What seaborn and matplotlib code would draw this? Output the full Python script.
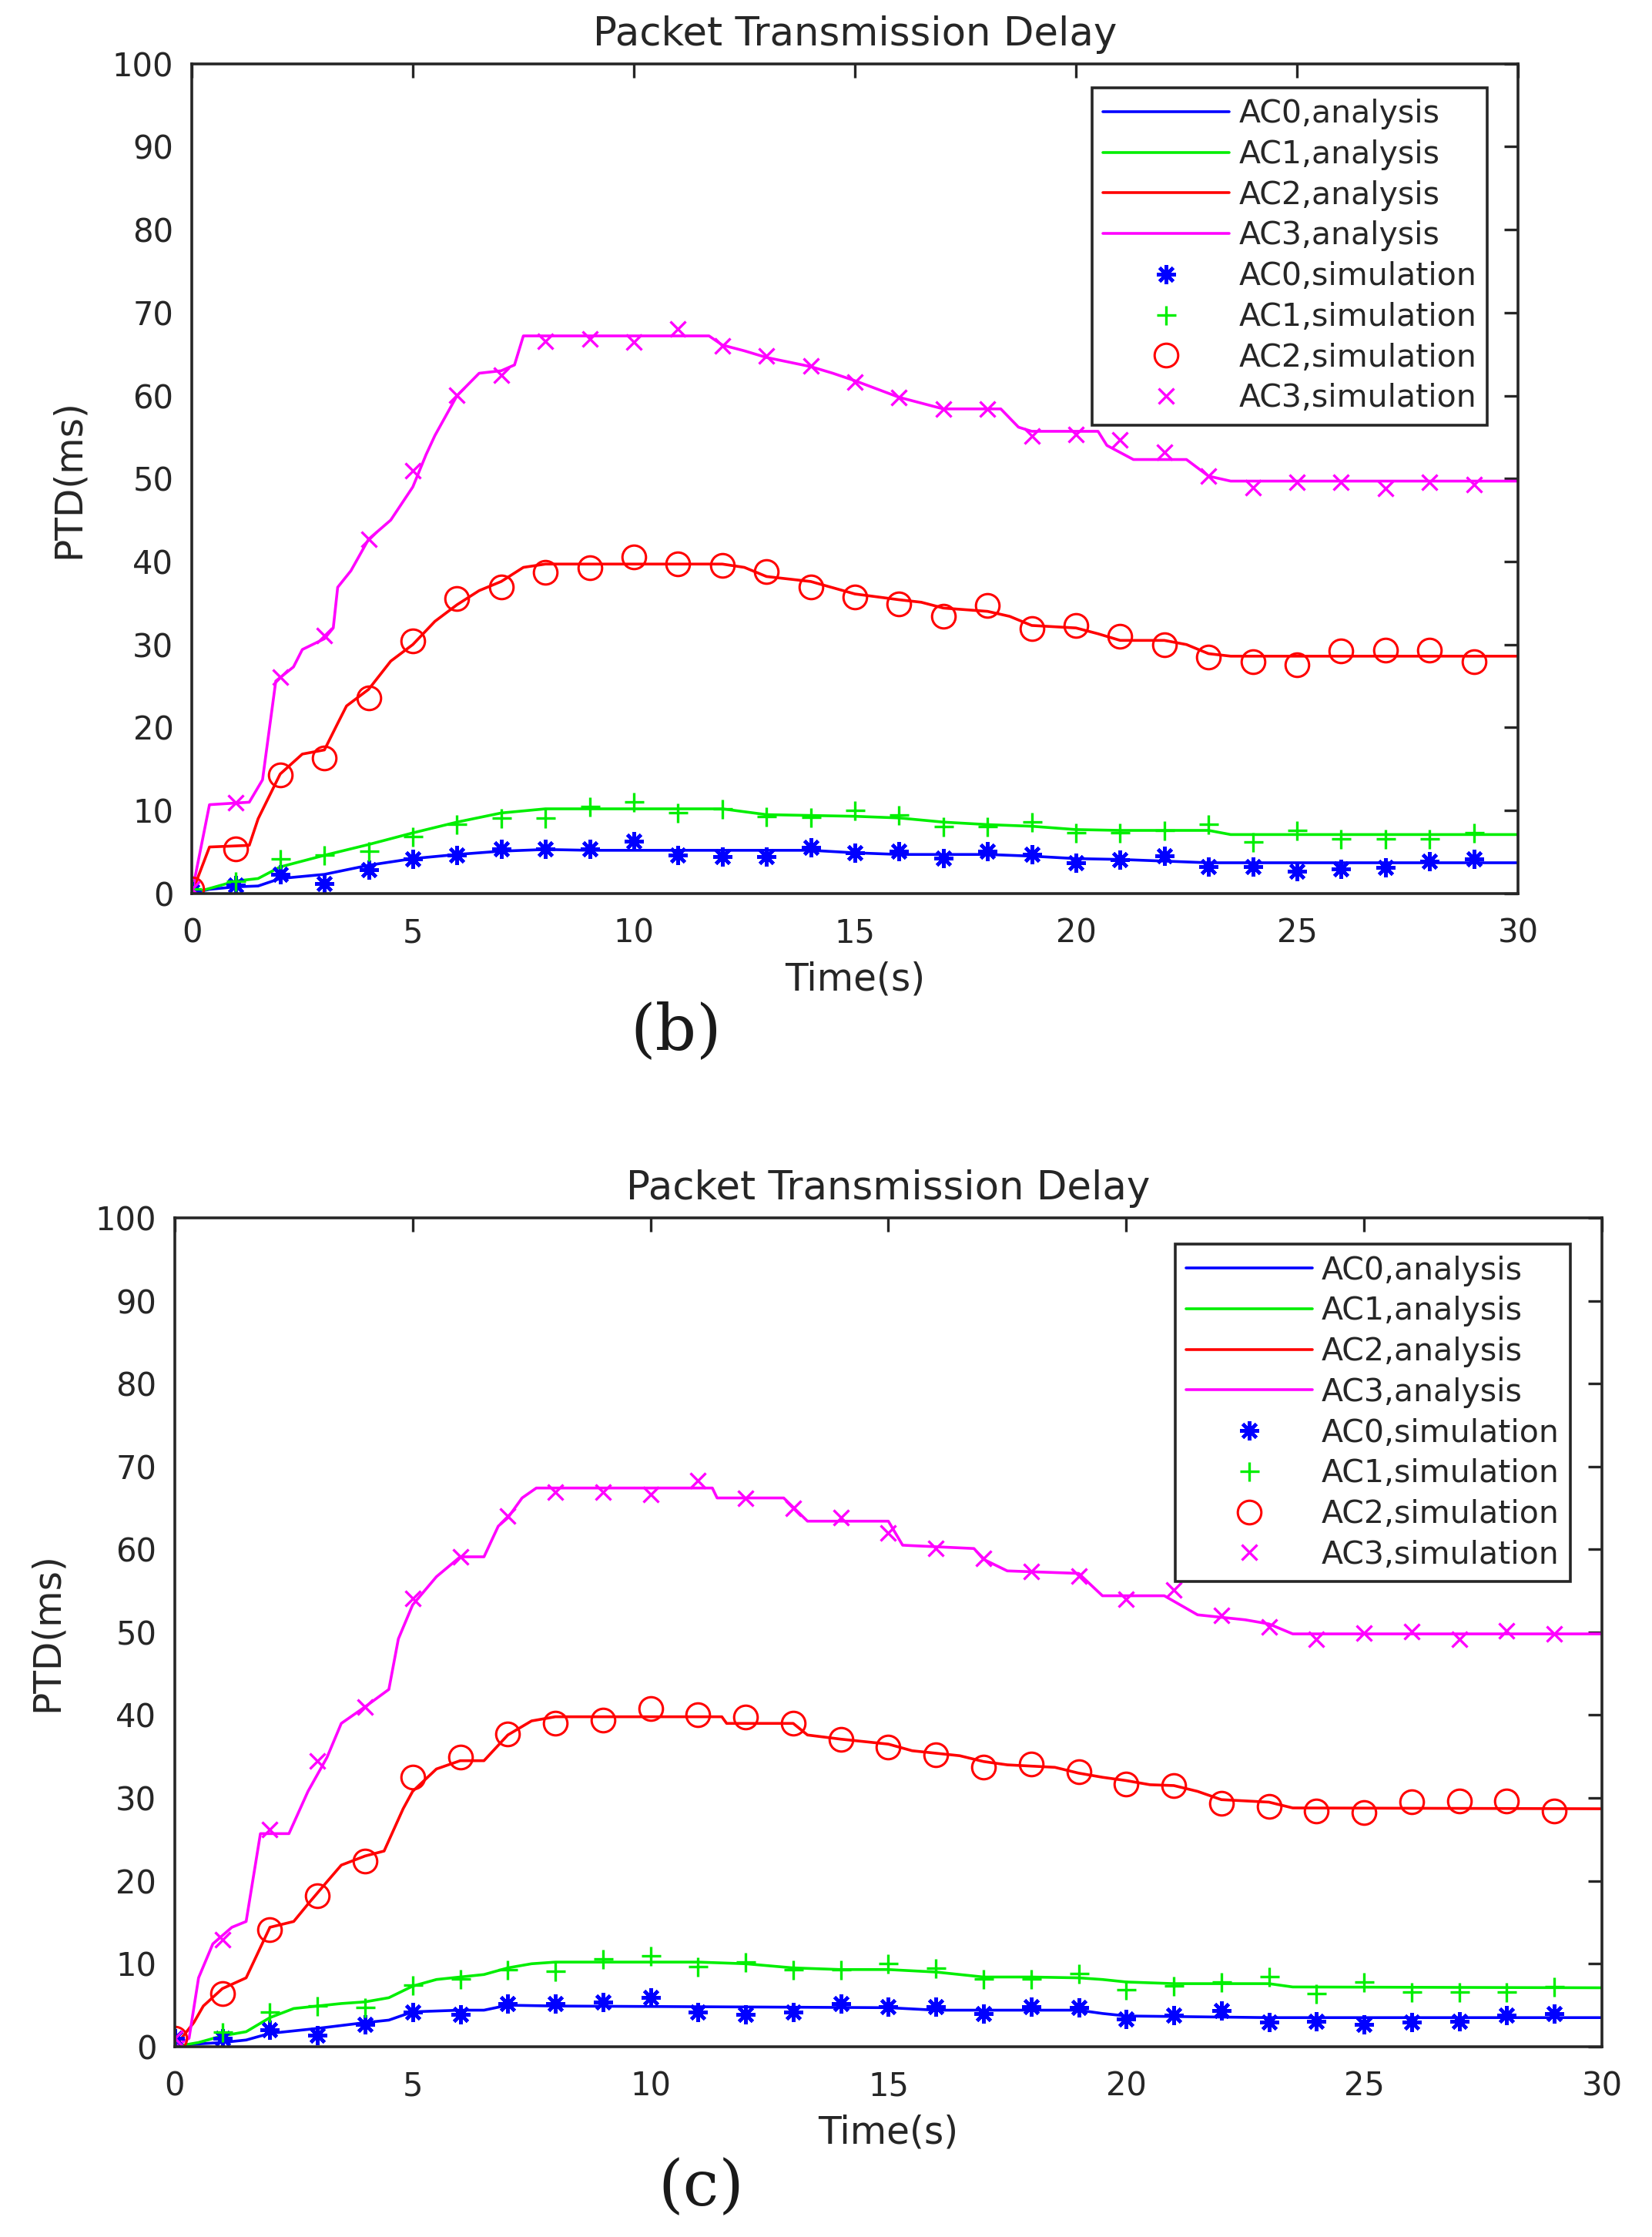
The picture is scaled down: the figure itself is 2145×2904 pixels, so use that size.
import numpy as np
import pandas as pd
import matplotlib
matplotlib.use("Agg")
import matplotlib.pyplot as plt
import seaborn as sns

# ---------------- data: panel (b) ----------------
b_ac0_t = [0, 0.4, 1, 1.5, 2, 3, 4, 5, 6, 7, 8, 9, 14, 15, 16, 18, 19, 20, 21, 22, 23, 30]
b_ac0_y = [0, 0.5, 0.8, 0.9, 1.8, 2.3, 3.4, 4.2, 4.7, 5.1, 5.3, 5.2, 5.2, 4.9, 4.7, 4.7, 4.5, 4.2, 4.1, 3.9, 3.7, 3.7]
b_ac1_t = [0, 0.4, 1, 1.5, 2, 3, 4, 5, 6, 7, 8, 12, 13, 15, 16, 17, 18, 19, 20, 21, 23, 23.5, 30]
b_ac1_y = [0, 0.6, 1.5, 1.8, 3.2, 4.6, 5.9, 7.3, 8.6, 9.7, 10.2, 10.2, 9.5, 9.3, 9.1, 8.6, 8.3, 8.1, 7.7, 7.6, 7.6, 7.1, 7.1]
b_ac2_t = [0, 0.4, 1.3, 1.5, 2, 2.5, 3, 3.3, 3.5, 4, 4.5, 5, 5.5, 6, 6.5, 7, 7.5, 8, 12, 12.5,
           13, 14, 15, 16, 16.5, 17, 18, 18.5, 19, 20, 20.5, 21, 22, 22.5, 23, 23.5, 30]
b_ac2_y = [0, 5.6, 5.8, 9, 14.4, 16.8, 17.3, 20.5, 22.6, 24.6, 28, 30, 32.8, 34.8, 36.5, 37.6, 39.3, 39.7, 39.7, 39.3,
           38.2, 37.6, 36.1, 35.4, 35.1, 34.4, 34, 33.4, 32.3, 32, 31.3, 30.5, 30.5, 30, 28.9, 28.6, 28.6]
b_ac3_t = [0, 0.4, 1.3, 1.6, 1.9, 2.3, 2.5, 3, 3.2, 3.3, 3.6, 4, 4.5, 5, 5.3, 5.5, 6, 6.5, 7, 7.3,
           7.5, 11.7, 12, 12.5, 13, 14, 14.5, 15, 16, 16.5, 17, 18.3, 18.7, 19, 20.5, 20.7, 21.3, 22.5, 23, 23.5, 30]
b_ac3_y = [0, 10.7, 11, 13.7, 25.6, 27.3, 29.4, 30.7, 32, 36.9, 38.9, 42.7, 45, 49, 52.9, 55.2, 60, 62.7, 63, 63.7,
           67.2, 67.2, 66.1, 65.4, 64.6, 63.5, 62.7, 61.8, 59.8, 59.1, 58.4, 58.4, 56.2, 55.7, 55.7, 54, 52.3, 52.3, 50.3, 49.7, 49.7]

sim_t = list(range(30))
b_sim_ac0 = [0.3, 1.0, 2.3, 1.2, 2.9, 4.2, 4.6, 5.4, 5.4, 5.4, 6.3, 4.6, 4.4, 4.4, 5.6,
             4.9, 5.1, 4.3, 5.1, 4.7, 3.7, 4.1, 4.5, 3.2, 3.2, 2.7, 3.0, 3.1, 3.9, 4.2]
b_sim_ac1 = [0.5, 1.5, 4.2, 4.6, 5.1, 6.9, 8.3, 9.1, 9.1, 10.5, 11.0, 9.7, 10.2, 9.3, 9.2,
             10.0, 9.5, 8.1, 8.1, 8.6, 7.3, 7.3, 7.6, 8.3, 6.2, 7.6, 6.6, 6.6, 6.6, 7.3]
b_sim_ac2 = [0.5, 5.4, 14.3, 16.3, 23.6, 30.4, 35.5, 36.9, 38.7, 39.3, 40.6, 39.7, 39.5, 38.8, 36.9,
             35.7, 34.9, 33.4, 34.7, 31.9, 32.3, 31.0, 30.0, 28.5, 27.9, 27.6, 29.2, 29.3, 29.3, 27.9]
b_sim_ac3 = [0.5, 10.9, 26.1, 31.1, 42.7, 51.0, 60.1, 62.5, 66.6, 66.8, 66.5, 68.0, 66.0, 64.8, 63.6,
             61.6, 59.8, 58.4, 58.4, 55.1, 55.3, 54.7, 53.2, 50.3, 48.9, 49.6, 49.6, 48.8, 49.6, 49.3]

# ---------------- data: panel (c) ----------------
c_ac0_t = [0, 0.4, 1, 1.5, 2, 3, 4, 4.5, 5, 6, 6.5, 7, 8, 15, 16, 19, 19.5, 20, 23, 30]
c_ac0_y = [0, 0.3, 0.5, 0.8, 1.6, 2.2, 2.9, 3.2, 4.2, 4.4, 4.4, 5.0, 4.9, 4.7, 4.4, 4.4, 4.0, 3.7, 3.5, 3.5]
c_ac1_t = [0, 0.5, 1, 1.5, 2, 2.5, 3, 3.5, 4, 4.5, 5, 5.5, 6, 6.5, 7, 7.5, 8, 11, 12, 13,
           14, 15, 16, 17, 18, 19, 19.5, 20, 21, 23, 23.5, 30]
c_ac1_y = [0, 0.5, 1.3, 1.8, 3.5, 4.6, 4.9, 5.2, 5.4, 5.9, 7.3, 8.1, 8.4, 8.7, 9.5, 10, 10.2, 10.2, 10, 9.5,
           9.3, 9.3, 9.0, 8.4, 8.4, 8.3, 8.1, 7.8, 7.6, 7.6, 7.2, 7.1]
c_ac2_t = [0, 0.4, 0.6, 1, 1.5, 2, 2.5, 2.8, 3.2, 3.5, 4, 4.4, 4.8, 5, 5.5, 6, 6.5, 7, 7.5, 8,
           11.5, 11.6, 13, 13.3, 14, 15, 15.5, 16.5, 17, 17.5, 18.5, 19, 19.5, 20, 20.5, 21, 21.5, 22, 23, 23.5, 30]
c_ac2_y = [0, 2.9, 4.9, 7, 8.3, 14.4, 15.1, 17.2, 19.9, 21.9, 23, 23.6, 28.7, 30.8, 33.5, 34.5, 34.5, 37.6, 39.3, 39.8,
           39.8, 39, 39, 37.6, 37.1, 36.5, 35.7, 35.1, 34.4, 34, 33.7, 33, 32.5, 32.1, 31.6, 31.5, 30.8, 29.8, 29.5, 28.8, 28.7]
c_ac3_t = [0, 0.3, 0.5, 0.8, 1.2, 1.5, 1.8, 2.4, 2.8, 3.2, 3.5, 4, 4.5, 4.7, 5, 5.5, 6, 6.5, 6.8, 7,
           7.3, 7.6, 11.3, 11.4, 12.8, 13.3, 15, 15.3, 16.8, 17, 17.5, 19, 19.5, 20.8, 21.5, 22.5, 23, 23.5, 30]
c_ac3_y = [0, 1, 8.3, 12.4, 14.4, 15.1, 25.7, 25.7, 30.8, 34.9, 39, 41, 43.1, 49.2, 53.3, 56.7, 59.1, 59.1, 62.8, 63.8,
           66.2, 67.4, 67.4, 66.2, 66.2, 63.4, 63.4, 60.5, 60.1, 58.8, 57.4, 57.1, 54.4, 54.4, 52.1, 51.5, 51, 49.8, 49.8]

c_sim_ac0 = [1.0, 1.0, 2.0, 1.4, 2.7, 4.2, 3.9, 5.2, 5.2, 5.4, 5.9, 4.2, 3.9, 4.2, 5.2,
             4.8, 4.8, 4.0, 4.8, 4.7, 3.3, 3.8, 4.4, 3.0, 3.1, 2.7, 3.0, 3.1, 3.8, 4.0]
c_sim_ac1 = [0.0, 1.8, 4.2, 4.9, 4.7, 7.4, 8.2, 9.3, 9.1, 10.6, 11.0, 9.7, 10.2, 9.3, 9.3,
             10.0, 9.5, 8.2, 8.2, 8.8, 6.9, 7.3, 7.8, 8.4, 6.4, 7.8, 6.6, 6.6, 6.6, 7.2]
c_sim_ac2 = [1.0, 6.4, 14.1, 18.2, 22.4, 32.5, 34.9, 37.7, 39.0, 39.4, 40.8, 40.0, 39.8, 39.0, 37.1,
             36.1, 35.2, 33.7, 34.1, 33.2, 31.7, 31.5, 29.4, 29.0, 28.4, 28.2, 29.5, 29.6, 29.6, 28.4]
c_sim_ac3 = [1.0, 12.9, 26.2, 34.5, 41.0, 54.1, 59.1, 64.0, 66.9, 66.9, 66.6, 68.3, 66.2, 65.0, 63.8,
             62.0, 60.1, 58.9, 57.3, 56.8, 54.0, 55.1, 52.0, 50.6, 49.2, 49.9, 50.1, 49.2, 50.2, 49.8]

classes = ["AC0", "AC1", "AC2", "AC3"]
x_ticks = [0, 5, 10, 15, 20, 25, 30]
y_ticks = [0, 10, 20, 30, 40, 50, 60, 70, 80, 90, 100]
title_text = "Packet Transmission Delay"
x_label = "Time(s)"
y_label = "PTD(ms)"

# ---------------- style ----------------
sns.set_style("white")
plt.rcParams["font.family"] = ["DejaVu Sans"]
INK = "0.15"
colors = ["#0000ff", "#00ee00", "#ff0000", "#ff00ff"]
markers = [(8, 2, 0), "+", "o", "x"]
msizes = [18, 18, 22, 14]
mews = [3.2, 2.4, 2.2, 2.4]

fig = plt.figure(figsize=(21.45, 29.04), dpi=100)
ax_b = fig.add_axes([0.1161, 0.6006, 0.8028, 0.3709])
ax_c = fig.add_axes([0.1058, 0.0851, 0.8639, 0.3705])


def draw(ax, ana, sims, leg_anchor, ylabelpad):
    for (t, y), cls, col in zip(ana, classes, colors):
        df = pd.DataFrame({"t": t, "v": y})
        sns.lineplot(data=df, x="t", y="v", ax=ax, color=col, linewidth=2.6,
                     estimator=None, sort=False, label=f"{cls},analysis")
    for vals, cls, col, mk, ms, mw in zip(sims, classes, colors, markers, msizes, mews):
        df = pd.DataFrame({"t": sim_t, "v": vals})
        sns.lineplot(data=df, x="t", y="v", ax=ax, color=col, linestyle="none",
                     marker=mk, markersize=ms, markerfacecolor="none" if mk == "o" else col,
                     markeredgecolor=col, markeredgewidth=mw,
                     estimator=None, sort=False, label=f"{cls},simulation")
    ax.set_xlim(0, 30)
    ax.set_ylim(0, 100)
    ax.set_xticks(x_ticks)
    ax.set_yticks(y_ticks)
    ax.tick_params(direction="in", length=13, width=2.4, top=True, right=True,
                   labelsize=30, colors=INK)
    ax.tick_params(axis="x", pad=22)
    ax.tick_params(axis="y", pad=17)
    for s in ax.spines.values():
        s.set_linewidth(2.6)
        s.set_color(INK)
        s.set_visible(True)
    ax.set_title(title_text, fontsize=37, pad=17, color=INK)
    ax.set_xlabel(x_label, fontsize=35, labelpad=11, color=INK)
    ax.set_ylabel(y_label, fontsize=35, labelpad=ylabelpad, color=INK)
    leg = ax.legend(loc="upper right", bbox_to_anchor=leg_anchor, borderaxespad=0,
                    frameon=True, fancybox=False, edgecolor=INK, framealpha=1,
                    fontsize=29.5, handlelength=4.0, handletextpad=0.3,
                    labelspacing=0.31, borderpad=0.35, numpoints=1)
    leg.get_frame().set_linewidth(2.6)
    for txt in leg.get_texts():
        txt.set_color(INK)


draw(ax_b,
     [(b_ac0_t, b_ac0_y), (b_ac1_t, b_ac1_y), (b_ac2_t, b_ac2_y), (b_ac3_t, b_ac3_y)],
     [b_sim_ac0, b_sim_ac1, b_sim_ac2, b_sim_ac3],
     (0.977, 0.971), 24)
draw(ax_c,
     [(c_ac0_t, c_ac0_y), (c_ac1_t, c_ac1_y), (c_ac2_t, c_ac2_y), (c_ac3_t, c_ac3_y)],
     [c_sim_ac0, c_sim_ac1, c_sim_ac2, c_sim_ac3],
     (0.978, 0.968), 28)

fig.text(878 / 2145, 1 - 1340 / 2904, "(b)", ha="center", va="center",
         family="DejaVu Serif", fontsize=60, color="0.1")
fig.text(910 / 2145, 1 - 2840 / 2904, "(c)", ha="center", va="center",
         family="DejaVu Serif", fontsize=60, color="0.1")

fig.savefig("out.png", dpi=100, facecolor="white")
